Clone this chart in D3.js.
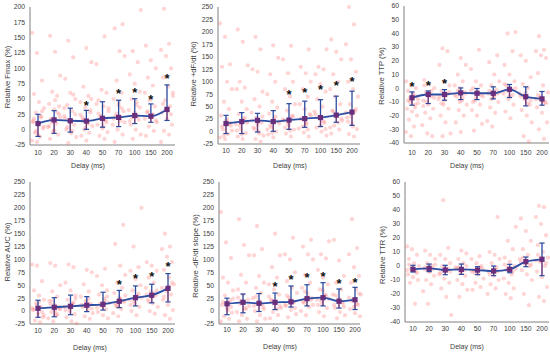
<!DOCTYPE html>
<html>
<head>
<meta charset="utf-8">
<script src="https://cdn.jsdelivr.net/npm/d3@7"></script>
<style>
  html, body { margin: 0; padding: 0; background: #fff; }
  svg { display: block; font-family: "Liberation Sans", Arial, sans-serif; }
  .tick-label { fill: #404040; font-size: 6.8px; }
  .axis-title { fill: #404040; font-size: 7.6px; }
  .delay-title { fill: #404040; font-size: 7px; }
</style>
</head>
<body>
<div id="chart"></div>
<script>
// delays (ms) on the x axis
const delays = ["10", "20", "30", "40", "50", "70", "100", "150", "200"];

// Relative Fmax
const fmaxMean = [10, 16, 14.5, 14, 18.5, 20, 23, 22, 33];
const fmaxLo = [-11, -6, -4, 0.5, 4, 5, 10, 12, 15];
const fmaxHi = [25, 31, 35, 31.5, 45.5, 48, 50.5, 42, 73];
const fmaxStars = [null, null, null, 43, null, 63, 64, 54, 87.5];
const fmaxPoints = [
  [158, 125, 80, 58, 45, 35, 28, 20, 14, 8, 2, -5, -12, -18, -20, 30, 18, 10, 5, -2, 22, 12, -8],
  [153, 127, 88, 62, 55, 42, 33, 25, 18, 10, 4, -3, -8, -15, 48, 20, 12, 28, 6, -1, 38, 15],
  [145, 118, 83, 60, 50, 40, 30, 22, 15, 8, 0, -6, -12, -22, 57, 18, 12, 25, 4, -2, 35],
  [133, 110, 70, 55, 45, 36, 28, 20, 12, 6, 0, -5, -10, -18, 50, 16, 10, 24, 3, 32, 14],
  [152, 107, 65, 60, 48, 38, 30, 22, 15, 8, 2, -4, -10, -15, 42, 20, 12, 26, 5, 35, 18],
  [172, 165, 128, 120, 80, 60, 50, 40, 30, 22, 15, 8, 0, -8, -20, 20, 12, 26, 35, 18, 45],
  [195, 128, 110, 90, 75, 62, 50, 40, 32, 24, 16, 8, 0, -8, -15, 22, 14, 28, 36, 20, 45],
  [137, 113, 100, 85, 72, 60, 48, 38, 28, 20, 12, 5, -2, -10, 22, 15, 30, 25, 18],
  [197, 140, 130, 120, 100, 85, 70, 60, 48, 38, 28, 18, 8, -2, -8, -20, 35, 25, 42, 30, 55]
];

// Relative +dF/dt
const dfUpMean = [16, 20, 22.5, 20, 23, 26, 28, 33, 39];
const dfUpLo = [-4, -4, -1, 0.5, 4.5, 8.5, 10, 18.5, 12.5];
const dfUpHi = [32.5, 38, 36.5, 42, 56, 61, 64, 71, 81];
const dfUpStars = [null, null, null, null, 79, 83, 89, 97, 106];
const dfUpPoints = [
  [217, 190, 135, 130, 100, 85, 60, 45, 32, 22, 12, 4, -5, -12, -15, 18, 10, 25, 2, -8, 15],
  [205, 180, 133, 100, 88, 85, 60, 45, 35, 25, 15, 5, -3, -10, -15, 20, 12, 28, 2, -6, 18],
  [190, 165, 125, 120, 80, 65, 50, 38, 28, 18, 8, 0, -8, -15, -20, 22, 14, 30, 5, -4],
  [173, 148, 115, 100, 75, 60, 48, 36, 26, 16, 8, 0, -6, -12, 20, 12, 30, 4, -3],
  [172, 145, 117, 100, 85, 70, 55, 42, 32, 22, 12, 4, -4, -10, 24, 16, 30, 8, 2],
  [165, 130, 117, 100, 85, 70, 55, 45, 35, 25, 15, 6, -2, -10, 26, 18, 32, 10, 4],
  [165, 130, 125, 115, 95, 80, 65, 50, 40, 28, 18, 8, 0, -8, 28, 20, 34, 12, 5],
  [185, 160, 145, 115, 100, 85, 70, 55, 42, 32, 22, 12, 4, -4, 34, 26, 40, 18, 8],
  [250, 215, 175, 145, 120, 100, 85, 70, 55, 40, 28, 15, 5, -5, -10, 38, 30, 45, 20, 10]
];

// Relative TTP
const ttpMean = [-7, -4.6, -4.6, -3.4, -3.7, -3.7, -0.8, -6.2, -7.8];
const ttpLo = [-12.4, -11.2, -8.8, -8.3, -8.3, -7.8, -6.8, -12.9, -12.4];
const ttpHi = [-2.7, -2, -1, 0.2, -0.2, 1, 2.7, 1, -2.4];
const ttpStars = [3, 4, 5.4, null, null, null, null, null, null];
const ttpPoints = [
  [5, 2, 0, -2, -5, -8, -10, -12, -15, -17, -20, -23, -28, -32, -35, -6, -9, -4, -11, -7, -14],
  [6, 3, 0, -3, -6, -9, -12, -15, -18, -22, -27, -33, -35, 2, -4, -7, -10, -2, -13],
  [29, 27, 17, 5, 2, -2, -5, -8, -12, -15, -20, -25, -33, -35, -4, -6, -9, -3, -11],
  [22, 17, 10, 5, 2, 0, -3, -6, -9, -12, -16, -20, -25, -32, -4, -2, -7, -5, -10],
  [28, 14, 5, 2, 0, -3, -6, -9, -12, -16, -20, -26, -31, -4, -2, -7, -5, -10],
  [24, 19, 10, 5, 2, -1, -4, -7, -10, -14, -18, -24, -28, -4, -2, -6, -3, -8],
  [41, 40, 27, 17, 10, 5, 2, -1, -4, -8, -12, -17, -22, 0, -2, -5, 3, -6],
  [24, 20, 8, 3, 0, -4, -8, -12, -16, -20, -25, -35, -39, -6, -3, -9, -5, -11],
  [38, 28, 27, 24, 22, 11, 2, -3, -7, -10, -14, -18, -25, -30, -37, -8, -6, -11, -5, -9]
];

// Relative AUC
const aucMean = [5.4, 7.4, 9.3, 11.3, 13.2, 19, 26, 30.7, 44];
const aucLo = [-12, -11, -7, -1, 2, 6.7, 10, 16, 17.7];
const aucHi = [21, 26, 31, 28, 36.5, 40, 48.7, 52, 72.6];
const aucStars = [null, null, null, null, null, 57, 67, 71.5, 92];
const aucPoints = [
  [90, 88, 58, 40, 30, 22, 15, 8, 2, -5, -12, -18, -22, 6, 12, -2, 4, 18, -8],
  [93, 88, 50, 38, 28, 20, 12, 5, -2, -8, -14, -20, 8, 14, 0, 4, 20, -6],
  [90, 85, 55, 40, 30, 22, 15, 8, 0, -6, -12, -20, -24, 10, 16, 2, 6, 24],
  [80, 75, 52, 38, 28, 20, 14, 8, 2, -4, -10, -15, 12, 18, 5, 10, 24],
  [82, 68, 50, 40, 32, 24, 16, 10, 4, -2, -8, -14, 14, 20, 6, 12, 28],
  [167, 130, 88, 70, 55, 45, 35, 26, 18, 10, 4, -4, -10, 20, 14, 24, 30, 8],
  [200, 125, 85, 78, 62, 50, 40, 30, 22, 15, 8, 0, -8, 26, 20, 34, 12, 28],
  [95, 88, 78, 65, 55, 45, 38, 30, 22, 15, 8, 0, -5, 32, 26, 40, 18, 35],
  [150, 125, 120, 105, 95, 80, 65, 52, 42, 32, 22, 12, 2, -8, -15, 45, 38, 55, 28, 48]
];

// Relative -dF/dt slope
const dfDownMean = [14, 17, 15, 17, 18, 24, 26, 19, 22];
const dfDownLo = [-7, -3.3, -0.8, 3, 7.8, 10, 10, 5.8, 3];
const dfDownHi = [25, 33, 34, 35, 48.6, 51, 55, 42.8, 46];
const dfDownStars = [null, null, null, 53, 66, 69.5, 71, 59, 61];
const dfDownPoints = [
  [192, 133, 103, 65, 55, 40, 30, 20, 12, 5, -3, -10, -15, -20, 14, 8, 18, 2, 24],
  [178, 128, 108, 70, 55, 42, 32, 22, 14, 6, -2, -8, -15, -20, 16, 10, 20, 4, 26],
  [165, 120, 108, 68, 55, 45, 35, 25, 15, 8, 0, -8, -15, -20, 14, 10, 20, 4, 28],
  [150, 108, 85, 65, 52, 42, 32, 22, 14, 6, -2, -8, -14, 16, 10, 20, 4, 28],
  [142, 110, 100, 75, 58, 45, 35, 26, 18, 10, 2, -6, -12, 16, 12, 22, 6, 30],
  [138, 125, 110, 100, 70, 55, 45, 35, 25, 16, 8, 0, -8, 22, 18, 28, 12, 38],
  [135, 110, 102, 80, 65, 52, 42, 32, 22, 14, 6, -2, -10, 24, 20, 30, 12, 40],
  [138, 98, 68, 55, 42, 32, 22, 14, 6, -2, -8, -14, 18, 12, 24, 8, 30],
  [178, 122, 110, 85, 68, 55, 42, 32, 22, 12, 4, -4, -10, 20, 14, 26, 8, 34]
];

// Relative TTR
const ttrMean = [-2.4, -1.7, -2.9, -2.4, -2.9, -3.6, -2.4, 3.1, 4.8];
const ttrLo = [-4.3, -4, -6.2, -6, -6.2, -6.9, -4.8, -0.5, -6.9];
const ttrHi = [0.5, 1.4, 0.5, 1.4, -0.5, 0, 1.2, 6.4, 16.4];
const ttrStars = [null, null, null, null, null, null, null, null, null];
const ttrPoints = [
  [14, 12, 8, 5, 2, 0, -2, -4, -6, -8, -10, -12, -27, -3, -1, -5, 1, -2],
  [11, 8, 5, 2, 0, -2, -4, -7, -10, -13, -18, -27, -2, -1, -4, 1, -3],
  [47, 13, 8, 5, 2, 0, -3, -6, -9, -12, -16, -22, -35, -3, -2, -5, -1, -4],
  [11, 9, 5, 2, -1, -4, -7, -10, -13, -17, -22, -3, -2, -5, 0, -1],
  [7, 5, 2, 0, -3, -6, -9, -12, -15, -17, -3, -2, -5, -1, -4],
  [35, 10, 8, 5, 2, -1, -4, -7, -10, -13, -16, -20, -3, -4, -6, -2],
  [28, 18, 12, 6, 3, 0, -3, -6, -9, -12, -16, -20, -23, -2, -1, -4, 1],
  [34, 25, 18, 12, 8, 5, 2, 0, -3, -6, -10, -20, -28, 3, 4, 1, 6],
  [43, 42, 35, 30, 22, 15, 10, 6, 3, 0, -4, -8, -15, -22, -25, 4, 6, 2, 8]
];

const width = 550, height = 354;

const panels = [
  { title: "Relative Fmax (%)", mean: fmaxMean, lo: fmaxLo, hi: fmaxHi, stars: fmaxStars, points: fmaxPoints,
    yDomain: [-25, 200], yStep: 25, left: 30, right: 175, top: 7, bottom: 145, x0: 38, x1: 167,
    titleX: 7, titleY: 77, tickY: 153, delayX: 88, delayY: 166 },
  { title: "Relative +dF/dt (%)", mean: dfUpMean, lo: dfUpLo, hi: dfUpHi, stars: dfUpStars, points: dfUpPoints,
    yDomain: [-25, 250], yStep: 25, left: 218, right: 360, top: 7, bottom: 144, x0: 226, x1: 352,
    titleX: 193, titleY: 74, tickY: 151, delayX: 290, delayY: 166 },
  { title: "Relative TTP (%)", mean: ttpMean, lo: ttpLo, hi: ttpHi, stars: ttpStars, points: ttpPoints,
    yDomain: [-40, 60], yStep: 10, left: 404, right: 549, top: 6, bottom: 143, x0: 412, x1: 542,
    titleX: 381, titleY: 76, tickY: 153, delayX: 467, delayY: 166 },
  { title: "Relative AUC (%)", mean: aucMean, lo: aucLo, hi: aucHi, stars: aucStars, points: aucPoints,
    yDomain: [-25, 250], yStep: 25, left: 30, right: 175, top: 182, bottom: 324, x0: 38, x1: 168,
    titleX: 7, titleY: 252, tickY: 331, delayX: 90, delayY: 348 },
  { title: "Relative -dF/dt slope (%)", mean: dfDownMean, lo: dfDownLo, hi: dfDownHi, stars: dfDownStars, points: dfDownPoints,
    yDomain: [-25, 250], yStep: 25, left: 219, right: 360, top: 182, bottom: 324, x0: 227, x1: 355,
    titleX: 195, titleY: 256, tickY: 330, delayX: 280, delayY: 347 },
  { title: "Relative TTR (%)", mean: ttrMean, lo: ttrLo, hi: ttrHi, stars: ttrStars, points: ttrPoints,
    yDomain: [-40, 60], yStep: 10, left: 405, right: 549, top: 182, bottom: 322, x0: 413, x1: 542,
    titleX: 382, titleY: 255, tickY: 329, delayX: 467, delayY: 347 }
];

const svg = d3.select("#chart")
  .append("svg")
  .attr("width", width)
  .attr("height", height);

// deterministic horizontal spread for the individual points
const jitter = i => ((i * 5) % 13) - 6;

panels.forEach(p => {
  const g = svg.append("g");

  const x = d3.scalePoint().domain(delays).range([p.x0, p.x1]);
  const y = d3.scaleLinear().domain(p.yDomain).range([p.bottom, p.top]);

  // y tick labels, no tick marks
  const yTicks = d3.range(p.yDomain[0], p.yDomain[1] + 0.001, p.yStep);
  g.selectAll(".ytl")
    .data(yTicks)
    .enter()
    .append("text")
    .attr("class", "tick-label")
    .attr("x", p.left - 5)
    .attr("y", d => y(d))
    .attr("dy", "0.35em")
    .attr("text-anchor", "end")
    .text(d => d);

  // x tick labels
  g.selectAll(".xtl")
    .data(delays)
    .enter()
    .append("text")
    .attr("class", "tick-label")
    .attr("x", d => x(d))
    .attr("y", p.tickY)
    .attr("dy", "0.35em")
    .attr("text-anchor", "middle")
    .text(d => d);

  // axis lines
  g.append("line")
    .attr("x1", p.left).attr("x2", p.left)
    .attr("y1", p.top).attr("y2", p.bottom)
    .attr("stroke", "#808080").attr("stroke-width", 1);
  g.append("line")
    .attr("x1", p.left).attr("x2", p.right)
    .attr("y1", p.bottom).attr("y2", p.bottom)
    .attr("stroke", "#808080").attr("stroke-width", 1);

  // titles
  g.append("text")
    .attr("class", "axis-title")
    .attr("transform", `translate(${p.titleX},${p.titleY}) rotate(-90)`)
    .attr("text-anchor", "middle")
    .attr("dy", "0.35em")
    .text(p.title);
  g.append("text")
    .attr("class", "delay-title")
    .attr("x", p.delayX)
    .attr("y", p.delayY)
    .attr("dy", "0.35em")
    .attr("text-anchor", "middle")
    .text("Delay (ms)");

  // individual points
  const pts = [];
  p.points.forEach((vals, ci) => {
    vals.forEach((v, i) => pts.push({ cat: delays[ci], v: v, i: i + ci * 3 }));
  });
  g.selectAll(".pt")
    .data(pts)
    .enter()
    .append("circle")
    .attr("cx", d => x(d.cat) + jitter(d.i))
    .attr("cy", d => y(d.v))
    .attr("r", 2.1)
    .attr("fill", "#ff6f6f")
    .attr("fill-opacity", 0.3);

  const rows = delays.map((d, i) => ({ cat: d, mean: p.mean[i], lo: p.lo[i], hi: p.hi[i], star: p.stars[i] }));

  // error bars
  const eb = g.selectAll(".eb").data(rows).enter().append("g");
  eb.append("line")
    .attr("x1", d => x(d.cat)).attr("x2", d => x(d.cat))
    .attr("y1", d => y(d.lo)).attr("y2", d => y(d.hi))
    .attr("stroke", "#2b4a9e").attr("stroke-width", 1.3);
  eb.append("line")
    .attr("x1", d => x(d.cat)).attr("x2", d => x(d.cat))
    .attr("y1", d => y(d.lo)).attr("y2", d => y(d.mean))
    .attr("stroke", "#c02850").attr("stroke-width", 1.3).attr("stroke-opacity", 0.5);
  ["lo", "hi"].forEach(k => {
    eb.append("line")
      .attr("x1", d => x(d.cat) - 2.6).attr("x2", d => x(d.cat) + 2.6)
      .attr("y1", d => y(d[k])).attr("y2", d => y(d[k]))
      .attr("stroke", "#2b4a9e").attr("stroke-width", 1.2);
  });

  // mean line
  const line = d3.line().x(d => x(d.cat)).y(d => y(d.mean)).curve(d3.curveMonotoneX);
  g.append("path")
    .datum(rows)
    .attr("d", line)
    .attr("fill", "none")
    .attr("stroke", "#2c4ea3")
    .attr("stroke-width", 1.8);

  // mean markers
  g.selectAll(".mk")
    .data(rows)
    .enter()
    .append("rect")
    .attr("x", d => x(d.cat) - 2.6)
    .attr("y", d => y(d.mean) - 2.6)
    .attr("width", 5.2)
    .attr("height", 5.2)
    .attr("fill", "#6a2f7c");

  // significance stars
  g.selectAll(".star")
    .data(rows.filter(d => d.star !== null))
    .enter()
    .append("text")
    .attr("x", d => x(d.cat))
    .attr("y", d => y(d.star) + 7)
    .attr("text-anchor", "middle")
    .attr("font-size", "13px")
    .attr("font-weight", "bold")
    .attr("fill", "#111")
    .text("*");
});
</script>
</body>
</html>
